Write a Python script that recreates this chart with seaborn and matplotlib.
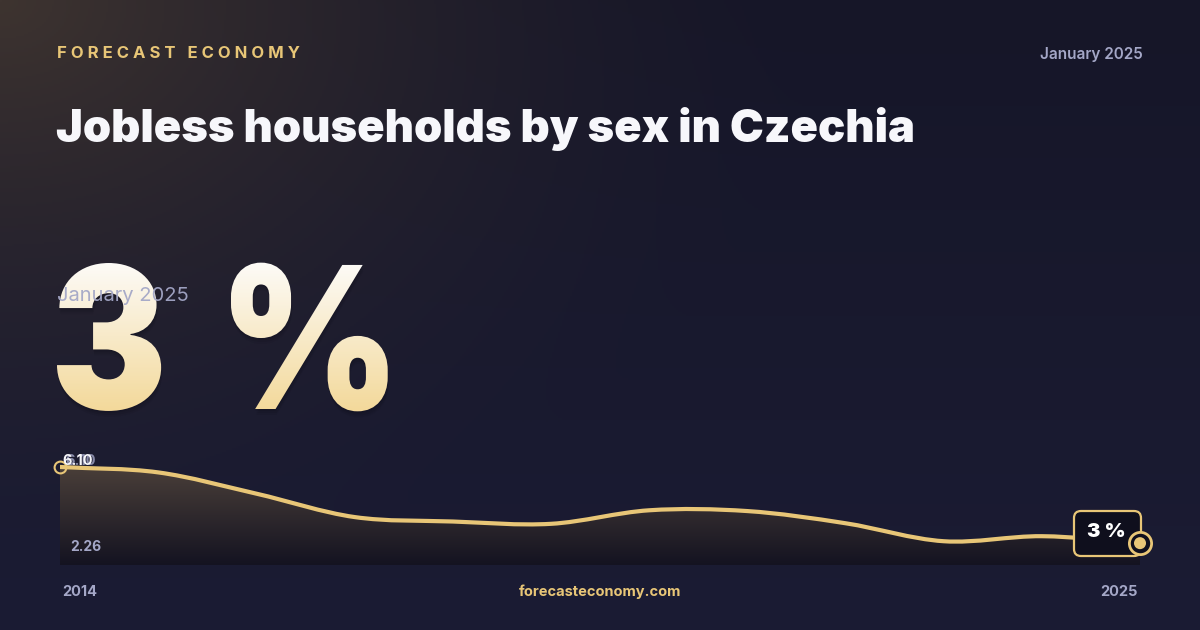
import numpy as np
import matplotlib
matplotlib.use("Agg")
import matplotlib.pyplot as plt
import seaborn as sns
from matplotlib.path import Path
from matplotlib.patches import PathPatch, FancyBboxPatch
from matplotlib.textpath import TextPath
from matplotlib.font_manager import FontProperties
from matplotlib.transforms import Affine2D

# data (annual, %)
years = [2014, 2015, 2016, 2017, 2018, 2019, 2020, 2021, 2022, 2023, 2024, 2025]
values = [6.10, 5.82, 4.72, 3.51, 3.28, 3.16, 3.86, 3.82, 3.19, 2.26, 2.52, 2.16]

headline = "3 %"
period = "January 2025"
title = "Jobless households by sex in Czechia"
brand = "FORECAST ECONOMY"
site = "forecasteconomy.com"
max_label = "6.10"
min_label = "2.26"
first_label = "6.10"
start_label = "2014"
end_label = "2025"

GOLD = "#e8c677"
GREY = "#a4a7c7"
WHITE = "#f7f7fb"
DARK = "#0f0f1d"

sns.set_theme(style="dark")
plt.rcParams["font.family"] = ["Inter", "DejaVu Sans"]

fig = plt.figure(figsize=(12, 6.3), dpi=100)

# background layer in pixel coordinates
bg = fig.add_axes([0, 0, 1, 1])
yy, xx = np.mgrid[0:630:2, 0:1200:2].astype(float)
top_col = np.array([22, 22, 40]) / 255
bot_col = np.array([27, 28, 52]) / 255
glow = np.array([62, 52, 48]) / 255
t = (yy / 630)[..., None]
img = top_col * (1 - t) + bot_col * t
d = np.sqrt(xx ** 2 + (yy * 1.4) ** 2)
w = (np.clip(1 - d / 820, 0, 1) ** 1.6)[..., None]
img = img * (1 - w) + glow * w
bg.imshow(img, extent=(0, 1200, 630, 0), aspect="auto", zorder=0)

# big headline with vertical gradient, one glyph group at a time
fp_big = FontProperties(family="Inter", weight="black")
c_top = np.array([253, 252, 250]) / 255
c_bot = np.array([243, 216, 152]) / 255
g = np.linspace(0, 1, 200)[:, None, None]
grad = c_top * (1 - g) + c_bot * g
sx = 0.88
for part, left in zip(headline.split(" "), [57, 231]):
    tp = TextPath((0, 0), part, size=198, prop=fp_big)
    x0 = tp.get_extents().x0 * sx
    for dx, dy, al in [(1, 6, 0.06), (1, 4, 0.08), (0, 2, 0.1)]:
        sh = PathPatch(tp, facecolor="#05050c", edgecolor="none", alpha=al, zorder=1,
                       transform=Affine2D().scale(sx, -1).translate(left - x0 + dx, 409 + dy) + bg.transData)
        bg.add_patch(sh)
    big = PathPatch(tp, facecolor="none", edgecolor="none", zorder=2,
                    transform=Affine2D().scale(sx, -1).translate(left - x0, 409) + bg.transData)
    bg.add_patch(big)
    gim = bg.imshow(grad, extent=(40, 420, 415, 258), aspect="auto", zorder=2)
    gim.set_clip_path(big)
bg.set_xlim(0, 1200)
bg.set_ylim(630, 0)
bg.axis("off")

spaced = "   ".join(" ".join(word) for word in brand.split(" "))
bg.text(57, 53, spaced, color=GOLD, fontsize=12, fontweight="bold",
        va="center", ha="left", zorder=3)
bg.text(1143, 54, period, color=GREY, fontsize=11, fontweight="semibold",
        va="center", ha="right", zorder=3)
bg.text(56, 142, title, color=WHITE, fontsize=32.6, fontweight="black",
        va="baseline", ha="left", zorder=3)
bg.text(57, 296, period, color=GREY, fontsize=14.5, va="center", ha="left",
        zorder=3, alpha=0.95)
bg.text(62, 592, start_label, color=GREY, fontsize=10.5, fontweight="bold",
        va="center", ha="left", zorder=3)
bg.text(1138, 592, end_label, color=GREY, fontsize=10.5, fontweight="bold",
        va="center", ha="right", zorder=3)
bg.text(600, 592, site, color=GOLD, fontsize=10.5, fontweight="bold",
        va="center", ha="center", zorder=3)

# sparkline
ax = fig.add_axes([60 / 1200, 65 / 630, 1080 / 1200, 110 / 630])
ax.set_facecolor("none")
lo, hi = 1.03, 6.72

x = np.array(years, dtype=float)
y = np.array(values, dtype=float)
m = np.empty_like(y)
m[1:-1] = (y[2:] - y[:-2]) / (x[2:] - x[:-2])
m[0] = (y[1] - y[0]) / (x[1] - x[0])
m[-1] = (y[-1] - y[-2]) / (x[-1] - x[-2])
verts = [(x[0], y[0])]
codes = [Path.MOVETO]
for i in range(len(x) - 1):
    h = x[i + 1] - x[i]
    verts += [(x[i] + h / 3, y[i] + m[i] * h / 3),
              (x[i + 1] - h / 3, y[i + 1] - m[i + 1] * h / 3),
              (x[i + 1], y[i + 1])]
    codes += [Path.CURVE4] * 3
line_path = Path(verts, codes)
fill_path = Path(verts + [(x[-1], lo), (x[0], lo), (x[0], y[0])],
                 codes + [Path.LINETO, Path.LINETO, Path.CLOSEPOLY])

fill = PathPatch(fill_path, facecolor="none", edgecolor="none", zorder=1)
ax.add_patch(fill)
f_top = np.array([74, 63, 57]) / 255
f_bot = np.array([20, 19, 33]) / 255
gf = np.linspace(0, 1, 200)[:, None, None]
fill_img = f_top * (1 - gf) + f_bot * gf
fim = ax.imshow(fill_img, extent=(x[0], x[-1], lo, max(values)), aspect="auto",
                origin="upper", zorder=1)
fim.set_clip_path(fill)

ax.add_patch(PathPatch(line_path, facecolor="none", edgecolor=GOLD, lw=3,
                       capstyle="round", joinstyle="round", zorder=2))

# badge with latest value
badge = FancyBboxPatch((1074, 511), 67, 45, boxstyle="round,pad=0,rounding_size=7",
                       facecolor=DARK, edgecolor=GOLD, lw=1.6,
                       transform=bg.transData, zorder=3, clip_on=False)
ax.add_patch(badge)
ax.text(1106, 532, headline, transform=bg.transData, color="white", fontsize=14.5,
        fontweight="black", ha="center", va="center", zorder=4, clip_on=False)

# end points
ax.plot([years[0]], [values[0]], marker="o", ms=8.5, mfc="none", mec=GOLD,
        mew=1.5, clip_on=False, zorder=5)
ax.plot([years[-1]], [values[-1]], marker="o", ms=16, mfc=DARK, mec=GOLD,
        mew=2, clip_on=False, zorder=5)
sns.scatterplot(x=[years[-1]], y=[values[-1]], ax=ax, s=75, color=GOLD,
                edgecolor="none", clip_on=False, zorder=6, legend=False)
ax.set_xlim(years[0], years[-1])
ax.set_ylim(lo, hi)
ax.axis("off")

# labels over the sparkline
fg = fig.add_axes([0, 0, 1, 1])
fg.set_xlim(0, 1200)
fg.set_ylim(630, 0)
fg.axis("off")
fg.set_facecolor("none")
fg.text(65, 461, max_label, color=GREY, fontsize=10.5, fontweight="bold",
        va="center", ha="left", alpha=0.8)
fg.text(62, 461, first_label, color=WHITE, fontsize=10.5, fontweight="bold",
        va="center", ha="left")
fg.text(70, 547, min_label, color=GREY, fontsize=10, fontweight="bold",
        va="center", ha="left")

fig.savefig("out.png", dpi=100)
